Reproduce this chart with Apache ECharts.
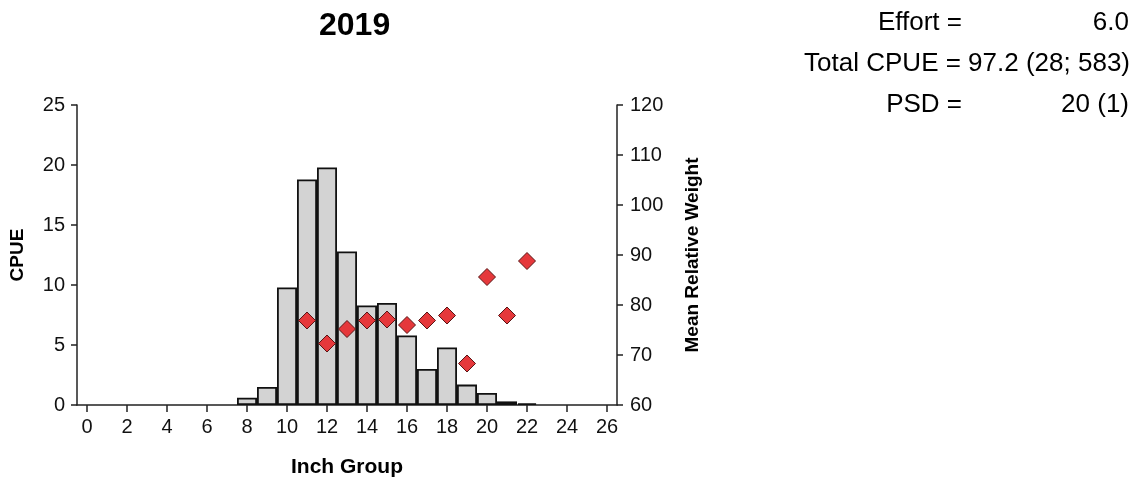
<!DOCTYPE html>
<html>
<head>
<meta charset="utf-8">
<title>2019</title>
<script src="https://cdn.jsdelivr.net/npm/echarts@6/dist/echarts.min.js"></script>
<style>
  html, body { margin: 0; padding: 0; background: #ffffff; }
  #chart { width: 1146px; height: 478px; }
</style>
</head>
<body>
<div id="chart"></div>
<script>
// Inch groups 0..26 on the category axis
const inchGroups = ['0','1','2','3','4','5','6','7','8','9','10','11','12','13','14','15','16','17','18','19','20','21','22','23','24','25','26'];

// CPUE per inch group (null where nothing was caught)
const cpueValues = [null, null, null, null, null, null, null, null,
  0.6, 1.5, 9.8, 18.8, 19.8, 12.8, 8.3, 8.5, 5.8, 3.0, 4.8, 1.7, 1.0, 0.3, 0.15,
  null, null, null, null];

// Mean relative weight per inch group
const relWeightValues = [null, null, null, null, null, null, null, null,
  null, null, null, 76.9, 72.3, 75.2, 76.9, 77.1, 76.0, 76.9, 77.9, 68.3, 85.6, 77.9, 88.8,
  null, null, null, null];

// Axis ranges
const cpueTicks = { min: 0, max: 25, step: 5 };
const weightTicks = { min: 60, max: 120, step: 10 };

// Summary statistics
const yearLabel = '2019';
const effortText = '6.0';
const totalCpueText = '97.2 (28; 583)';
const psdText = '20 (1)';

const FONT = '"Liberation Sans", Arial, sans-serif';
const AXIS_COLOR = '#222222';
const STAT_FONT = '26px ' + FONT;

const chart = echarts.init(document.getElementById('chart'), null, { renderer: 'canvas' });

chart.setOption({
  animation: false,
  backgroundColor: '#ffffff',
  textStyle: { fontFamily: FONT },
  grid: { left: 77, right: 529, top: 105, bottom: 73, containLabel: false, outerBoundsMode: 'none' },
  graphic: [
    { type: 'text', left: 355 - 36, top: 10,
      style: { text: yearLabel, font: 'bold 32px ' + FONT, fill: '#000' } },
    { type: 'text', x: 962, y: 23,
      style: { text: 'Effort =', font: STAT_FONT, fill: '#000', align: 'right', verticalAlign: 'middle' } },
    { type: 'text', x: 1129, y: 23,
      style: { text: effortText, font: STAT_FONT, fill: '#000', align: 'right', verticalAlign: 'middle' } },
    { type: 'text', x: 1130, y: 64,
      style: { text: 'Total CPUE = ' + totalCpueText, font: STAT_FONT, fill: '#000', align: 'right', verticalAlign: 'middle' } },
    { type: 'text', x: 962, y: 105,
      style: { text: 'PSD =', font: STAT_FONT, fill: '#000', align: 'right', verticalAlign: 'middle' } },
    { type: 'text', x: 1129, y: 105,
      style: { text: psdText, font: STAT_FONT, fill: '#000', align: 'right', verticalAlign: 'middle' } }
  ],
  xAxis: {
    type: 'category',
    data: inchGroups,
    boundaryGap: true,
    name: 'Inch Group',
    nameLocation: 'middle',
    nameGap: 52,
    nameTextStyle: { fontFamily: FONT, fontWeight: 'bold', fontSize: 21, color: '#000' },
    axisLine: { show: true, lineStyle: { color: AXIS_COLOR, width: 1.5 } },
    axisTick: { show: true, alignWithLabel: true, interval: 1, length: 7, lineStyle: { color: AXIS_COLOR, width: 1.5 } },
    axisLabel: { interval: 1, margin: 12, fontFamily: FONT, fontSize: 20, color: '#111' },
    splitLine: { show: false }
  },
  yAxis: [
    {
      type: 'value',
      position: 'left',
      min: cpueTicks.min, max: cpueTicks.max, interval: cpueTicks.step,
      name: 'CPUE',
      nameLocation: 'middle',
      nameGap: 50,
      nameRotate: 90,
      nameTextStyle: { fontFamily: FONT, fontWeight: 'bold', fontSize: 19, color: '#000' },
      axisLine: { show: true, lineStyle: { color: AXIS_COLOR, width: 1.5 } },
      axisTick: { show: true, length: 6, lineStyle: { color: AXIS_COLOR, width: 1.5 } },
      axisLabel: { margin: 12, fontFamily: FONT, fontSize: 20, color: '#111' },
      splitLine: { show: false }
    },
    {
      type: 'value',
      position: 'right',
      min: weightTicks.min, max: weightTicks.max, interval: weightTicks.step,
      name: 'Mean Relative Weight',
      nameLocation: 'middle',
      nameGap: 66,
      nameRotate: 90,
      nameTextStyle: { fontFamily: FONT, fontWeight: 'bold', fontSize: 19, color: '#000' },
      axisLine: { show: true, lineStyle: { color: AXIS_COLOR, width: 1.5 } },
      axisTick: { show: true, length: 6, lineStyle: { color: AXIS_COLOR, width: 1.5 } },
      axisLabel: { margin: 13, fontFamily: FONT, fontSize: 20, color: '#111' },
      splitLine: { show: false }
    }
  ],
  series: [
    {
      name: 'CPUE',
      type: 'bar',
      yAxisIndex: 0,
      data: cpueValues,
      barCategoryGap: '0%',
      itemStyle: { color: '#d3d3d3', borderColor: '#111111', borderWidth: 1.8 },
      z: 2
    },
    {
      name: 'Mean Relative Weight',
      type: 'scatter',
      yAxisIndex: 1,
      data: relWeightValues,
      symbol: 'diamond',
      symbolSize: 17,
      itemStyle: { color: '#e5383b', borderColor: '#5a1515', borderWidth: 1, opacity: 1 },
      z: 3
    }
  ]
});
</script>
</body>
</html>
